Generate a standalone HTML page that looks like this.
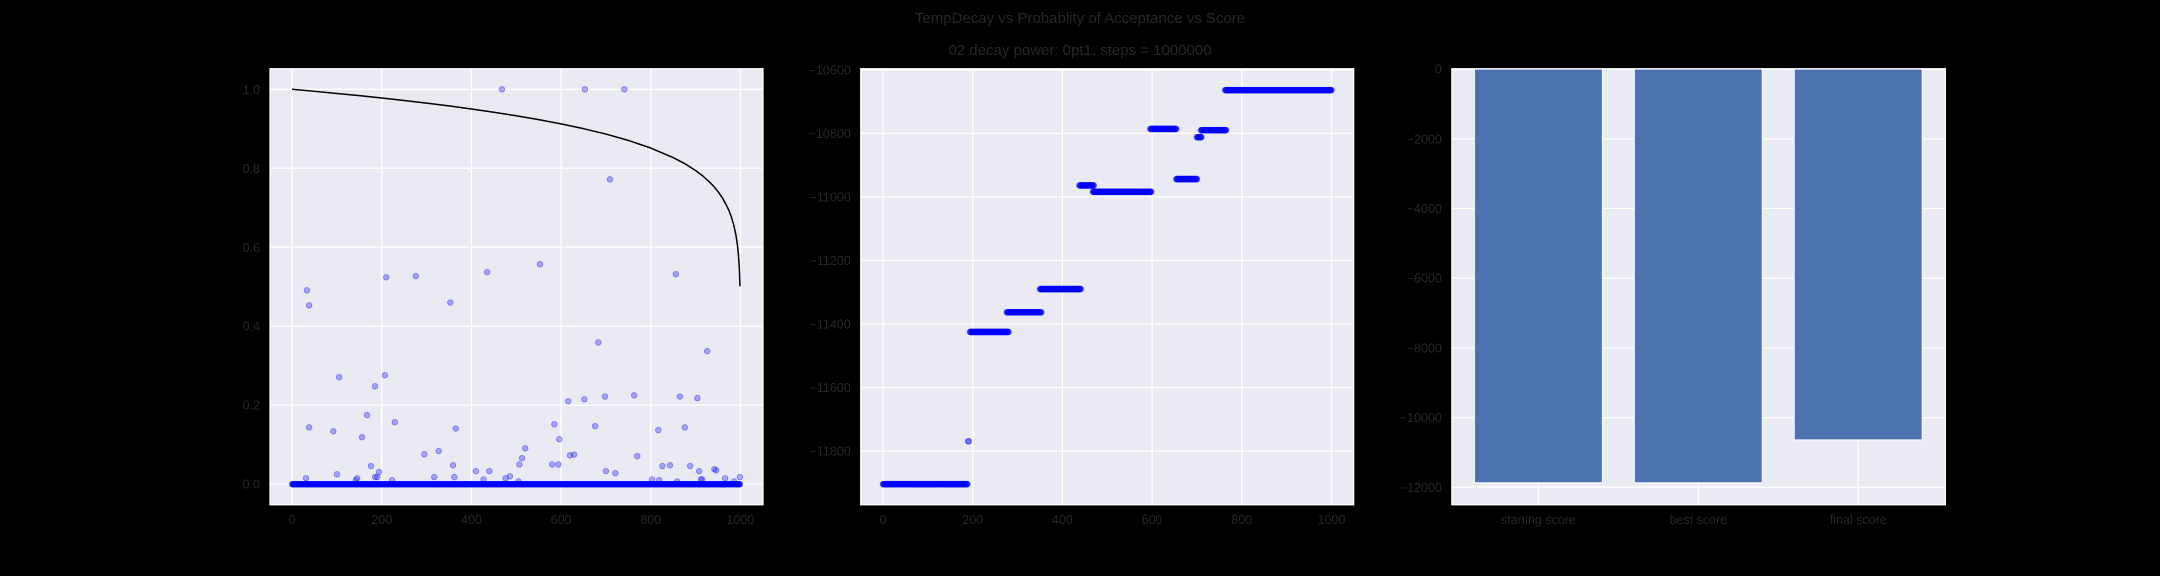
<!DOCTYPE html>
<html><head><meta charset="utf-8"><style>
html,body{margin:0;padding:0;background:#000;}
svg{display:block;font-family:"Liberation Sans",sans-serif;}
</style></head><body>
<svg id="fig" width="2160" height="576" viewBox="0 0 2160 576">
<rect width="2160" height="576" fill="#000"/>
<text x="1080" y="23" text-anchor="middle" font-size="15" fill="#262626">TempDecay vs Probablity of Acceptance vs Score</text>
<text x="1080" y="55" text-anchor="middle" font-size="15" fill="#262626">02 decay power: 0pt1, steps = 1000000</text>
<g id="p1"></g>
<g id="p2"></g>
<g id="p3"></g>
</svg>
<script>
// ---- data ----
const numSteps = 1000;
const accX = [468,653,741,709,553,435,856,276,210,33,38,353,683,926,105,207,185,616,652,698,763,865,904,167,38,92,156,229,365,585,676,817,876,596,520,513,327,295,620,629,770,176,359,507,580,594,826,843,888,194,100,410,440,700,721,908,942,946,31,145,185,190,317,362,486,476,966,999,803,912,915,223,427,819,986,505,859,142];
const accY = [1.0,1.0,1.0,0.772,0.557,0.537,0.532,0.527,0.524,0.491,0.453,0.46,0.359,0.337,0.271,0.276,0.248,0.21,0.215,0.222,0.225,0.222,0.218,0.175,0.144,0.134,0.119,0.157,0.141,0.152,0.147,0.137,0.144,0.114,0.091,0.066,0.084,0.076,0.073,0.075,0.071,0.046,0.048,0.05,0.05,0.05,0.046,0.048,0.046,0.031,0.025,0.033,0.033,0.033,0.028,0.033,0.038,0.035,0.015,0.015,0.018,0.018,0.018,0.018,0.02,0.015,0.015,0.018,0.012,0.012,0.012,0.01,0.012,0.01,0.007,0.007,0.007,0.01];
const tempX = [0,50,100,150,200,250,300,350,400,450,500,550,600,650,700,750,800,850,875,900,915,930,940,950,960,970,975,980,985,990,993,995,997,998,999];
const tempY = [1.0,0.9949,0.9895,0.9839,0.9779,0.9716,0.9650,0.9579,0.9502,0.9420,0.9330,0.9233,0.9124,0.9003,0.8866,0.8706,0.8513,0.8271,0.8123,0.7943,0.7815,0.7664,0.7549,0.7411,0.7248,0.7039,0.6915,0.6762,0.6572,0.6310,0.6088,0.5887,0.5596,0.5372,0.5012];
const segStart = [0,190,194,276,350,438,468,596,654,700,709,763];
const segEnd   = [188,191,280,353,441,470,598,654,700,710,765,1000];
const segScore = [-11904,-11769,-11425,-11363,-11290,-10964,-10984,-10786,-10944,-10812,-10790,-10664];
const barCats = ["starting score","best score","final score"];
const barVals = [-11870,-11870,-10640];
const p1XTicks = [0,200,400,600,800,1000];
const p1YTicks = [0.0,0.2,0.4,0.6,0.8,1.0];
const p2XTicks = [0,200,400,600,800,1000];
const p2YTicks = [-11800,-11600,-11400,-11200,-11000,-10800,-10600];
const p3YTicks = [0,-2000,-4000,-6000,-8000,-10000,-12000];

const NS = "http://www.w3.org/2000/svg";
function mk(tag, attrs, parent){const e=document.createElementNS(NS,tag);for(const k in attrs)e.setAttribute(k,attrs[k]);parent.appendChild(e);return e;}
function fmt(v,dec){let s=dec?v.toFixed(1):String(v);return s.replace('-','\u2212');}
function scale(d0,d1,r0,r1){return v=>r0+(v-d0)/(d1-d0)*(r1-r0);}

function frame(g,L,T,R,B,xs,ys,xt,yt,dec,xlabels){
  const bg=mk('rect',{x:L,y:T,width:R-L,height:B-T,fill:'#eaeaf2'},g);
  
  
  xt.forEach((t,i)=>{const x=xs(t);
    const l=mk('line',{x1:x,x2:x,y1:T,y2:B,stroke:'#fff','stroke-width':1.3},g);
    
    
    const tx=mk('text',{x:x,y:B+19,'text-anchor':'middle','font-size':12.5,fill:'#262626'},g);
    tx.textContent = xlabels?xlabels[i]:fmt(t,false);
    
    
  });
  yt.forEach(t=>{const y=ys(t);
    const l=mk('line',{x1:L,x2:R,y1:y,y2:y,stroke:'#fff','stroke-width':1.3},g);
    
    
    const tx=mk('text',{x:L-10,y:y+4.5,'text-anchor':'end','font-size':12.5,fill:'#262626'},g);
    tx.textContent=fmt(t,dec);
    
    
  });
}
function border(g,L,T,R,B){const b=mk('rect',{x:L,y:T,width:R-L,height:B-T,fill:'none',stroke:'#fff','stroke-width':1.2},g);
  
  }

// ---- panel 1 ----
(function(){
  const g=document.getElementById('p1');
  const L=270,T=68.7,R=763,B=504.8;
  const xs=scale(0,1000,292.1,740.4), ys=scale(0,1,484.2,89.3);
  frame(g,L,T,R,B,xs,ys,p1XTicks,p1YTicks,true);
  for(let i=0;i<numSteps;i++){
    const c=mk('circle',{cx:xs(i),cy:ys(0),r:2.8,fill:'rgba(0,0,255,0.3)',stroke:'rgba(0,0,255,0.4)','stroke-width':0.8},g);
    
    
  }
  accX.forEach((x,i)=>{
    const c=mk('circle',{cx:xs(x),cy:ys(accY[i]),r:2.8,fill:'rgba(0,0,255,0.3)',stroke:'rgba(0,0,255,0.4)','stroke-width':0.8},g);
    
    
  });
  const d=tempX.map((x,i)=>(i?'L':'M')+xs(x).toFixed(2)+','+ys(tempY[i]).toFixed(2)).join('');
  const p=mk('path',{d:d,fill:'none',stroke:'#000','stroke-width':1.5,'stroke-linejoin':'round'},g);
  
  
  border(g,L,T,R,B);
})();

// ---- panel 2 ----
(function(){
  const g=document.getElementById('p2');
  const L=860.7,T=68.7,R=1353.7,B=504.8;
  const xs=scale(0,1000,883,1331.5), ys=scale(-11800,-10600,451.1,69.8);
  frame(g,L,T,R,B,xs,ys,p2XTicks,p2YTicks,false);
  segStart.forEach((s,k)=>{
    for(let i=s;i<=segEnd[k];i++){
      const c=mk('circle',{cx:xs(i),cy:ys(segScore[k]),r:2.9,fill:'rgba(0,0,255,0.3)',stroke:'rgba(0,0,255,0.4)','stroke-width':0.8},g);
      
      
    }
  });
  border(g,L,T,R,B);
})();

// ---- panel 3 ----
(function(){
  const g=document.getElementById('p3');
  const L=1451.8,T=68.7,R=1945.4,B=504.8;
  const xs=scale(0,2,1538.4,1858.2), ys=scale(0,-12000,69.1,487.3);
  frame(g,L,T,R,B,xs,ys,[0,1,2],p3YTicks,false,barCats);
  const bw=xs(0.4)-xs(0);
  barCats.forEach((c,i)=>{
    const y0=ys(0), y1=ys(barVals[i]);
    const r=mk('rect',{x:xs(i)-bw,y:Math.min(y0,y1),width:2*bw,height:Math.abs(y1-y0),fill:'#4c72b0',stroke:'#fff','stroke-width':1},g);
    
    
  });
  border(g,L,T,R,B);
})();
</script>
</body></html>
